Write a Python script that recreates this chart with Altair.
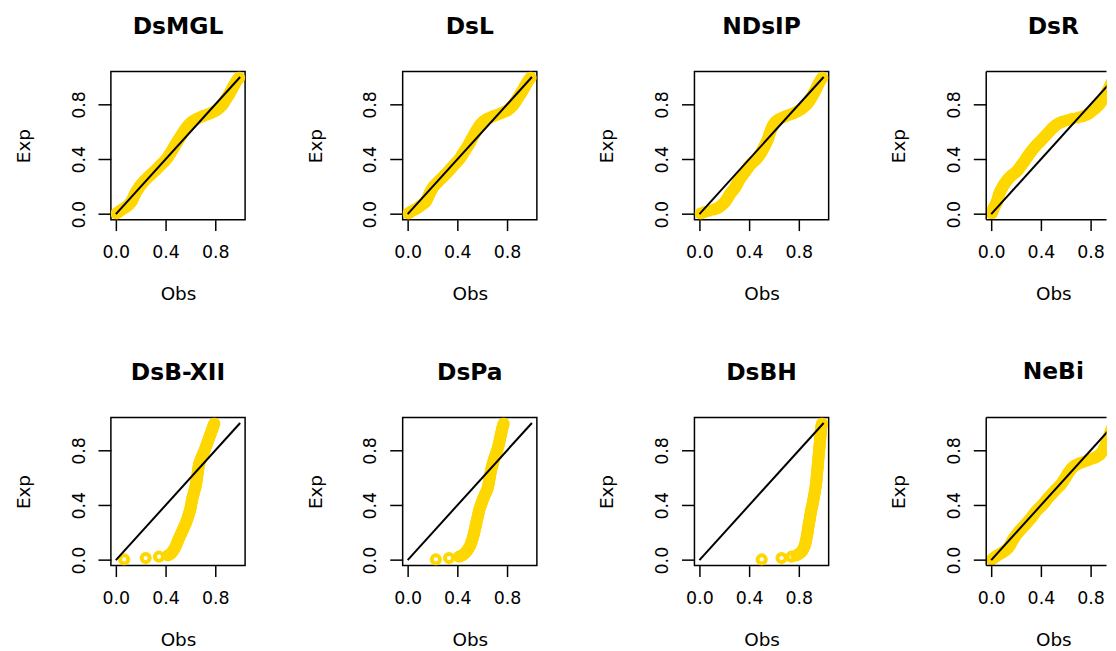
import altair as alt
import pandas as pd

# Empirical plotting positions (shared y values, "Exp")
EXP = [
    0.005, 0.015, 0.025, 0.035, 0.045, 0.055, 0.065, 0.075, 0.085, 0.095,
    0.105, 0.115, 0.125, 0.135, 0.145, 0.155, 0.165, 0.175, 0.185, 0.195,
    0.205, 0.215, 0.225, 0.235, 0.245, 0.255, 0.265, 0.275, 0.285, 0.295,
    0.305, 0.315, 0.325, 0.335, 0.345, 0.355, 0.365, 0.375, 0.385, 0.395,
    0.405, 0.415, 0.425, 0.435, 0.445, 0.455, 0.465, 0.475, 0.485, 0.495,
    0.505, 0.515, 0.525, 0.535, 0.545, 0.555, 0.565, 0.575, 0.585, 0.595,
    0.605, 0.615, 0.625, 0.635, 0.645, 0.655, 0.665, 0.675, 0.685, 0.695,
    0.705, 0.715, 0.725, 0.735, 0.745, 0.755, 0.765, 0.775, 0.785, 0.795,
    0.805, 0.815, 0.825, 0.835, 0.845, 0.855, 0.865, 0.875, 0.885, 0.895,
    0.905, 0.915, 0.925, 0.935, 0.945, 0.955, 0.965, 0.975, 0.985, 0.995,
]

TITLES = ["DsMGL", "DsL", "NDsIP", "DsR", "DsB-XII", "DsPa", "DsBH", "NeBi"]

OBS_DSMGL = [
    0.005, 0.02, 0.035, 0.05, 0.07, 0.085, 0.10, 0.11, 0.12, 0.127,
    0.133, 0.138, 0.143, 0.148, 0.153, 0.158, 0.165, 0.172, 0.179, 0.186,
    0.194, 0.203, 0.212, 0.222, 0.232, 0.243, 0.254, 0.265, 0.277, 0.289,
    0.30, 0.312, 0.324, 0.335, 0.346, 0.357, 0.368, 0.379, 0.39, 0.40,
    0.41, 0.418, 0.425, 0.432, 0.439, 0.446, 0.453, 0.46, 0.466, 0.472,
    0.478, 0.485, 0.492, 0.499, 0.506, 0.513, 0.52, 0.527, 0.534, 0.541,
    0.548, 0.555, 0.563, 0.571, 0.58, 0.59, 0.60, 0.615, 0.63, 0.65,
    0.675, 0.70, 0.73, 0.76, 0.785, 0.805, 0.82, 0.833, 0.845, 0.855,
    0.863, 0.87, 0.877, 0.884, 0.891, 0.898, 0.905, 0.912, 0.918, 0.924,
    0.93, 0.936, 0.942, 0.948, 0.954, 0.96, 0.967, 0.974, 0.982, 0.992,
]
OBS_DSL = [
    0.005, 0.02, 0.04, 0.06, 0.08, 0.095, 0.11, 0.125, 0.14, 0.148,
    0.154, 0.159, 0.164, 0.169, 0.174, 0.179, 0.185, 0.191, 0.197, 0.204,
    0.211, 0.222, 0.233, 0.244, 0.255, 0.266, 0.277, 0.288, 0.299, 0.31,
    0.32, 0.33, 0.34, 0.35, 0.36, 0.37, 0.38, 0.39, 0.40, 0.41,
    0.42, 0.427, 0.434, 0.441, 0.448, 0.455, 0.462, 0.469, 0.476, 0.483,
    0.49, 0.496, 0.502, 0.508, 0.514, 0.52, 0.526, 0.532, 0.538, 0.544,
    0.55, 0.557, 0.564, 0.571, 0.578, 0.586, 0.597, 0.608, 0.622, 0.64,
    0.665, 0.69, 0.72, 0.75, 0.775, 0.80, 0.815, 0.828, 0.84, 0.85,
    0.858, 0.865, 0.872, 0.879, 0.886, 0.893, 0.90, 0.907, 0.914, 0.921,
    0.928, 0.934, 0.94, 0.946, 0.952, 0.958, 0.965, 0.972, 0.98, 0.99,
]
OBS_NDSIP = [
    0.01, 0.04, 0.08, 0.12, 0.15, 0.165, 0.178, 0.19, 0.203, 0.21,
    0.218, 0.225, 0.232, 0.238, 0.245, 0.252, 0.262, 0.272, 0.28, 0.288,
    0.295, 0.30, 0.306, 0.312, 0.318, 0.324, 0.332, 0.34, 0.348, 0.356,
    0.364, 0.372, 0.38, 0.388, 0.396, 0.404, 0.414, 0.426, 0.438, 0.45,
    0.462, 0.47, 0.478, 0.486, 0.494, 0.50, 0.506, 0.512, 0.518, 0.524,
    0.53, 0.535, 0.54, 0.545, 0.55, 0.555, 0.558, 0.561, 0.564, 0.568,
    0.572, 0.576, 0.581, 0.586, 0.591, 0.597, 0.605, 0.615, 0.628, 0.645,
    0.67, 0.695, 0.725, 0.755, 0.78, 0.80, 0.818, 0.832, 0.845, 0.857,
    0.868, 0.876, 0.884, 0.891, 0.898, 0.905, 0.911, 0.917, 0.923, 0.929,
    0.935, 0.94, 0.945, 0.95, 0.955, 0.961, 0.967, 0.974, 0.982, 0.99,
]
OBS_DSR = [
    0.004, 0.008, 0.012, 0.016, 0.02, 0.026, 0.032, 0.038, 0.043, 0.048,
    0.051, 0.054, 0.057, 0.06, 0.063, 0.067, 0.072, 0.078, 0.084, 0.09,
    0.096, 0.103, 0.11, 0.118, 0.126, 0.135, 0.145, 0.155, 0.168, 0.182,
    0.196, 0.208, 0.218, 0.226, 0.234, 0.242, 0.25, 0.259, 0.267, 0.275,
    0.28, 0.288, 0.296, 0.304, 0.312, 0.32, 0.329, 0.338, 0.347, 0.356,
    0.366, 0.377, 0.388, 0.399, 0.41, 0.42, 0.43, 0.44, 0.45, 0.46,
    0.47, 0.48, 0.49, 0.502, 0.515, 0.53, 0.55, 0.575, 0.61, 0.65,
    0.70, 0.74, 0.77, 0.788, 0.80, 0.815, 0.83, 0.842, 0.853, 0.864,
    0.874, 0.883, 0.891, 0.899, 0.906, 0.913, 0.919, 0.925, 0.931, 0.937,
    0.942, 0.947, 0.952, 0.957, 0.962, 0.967, 0.972, 0.978, 0.984, 0.991,
]
OBS_DSBXII = [
    0.067, 0.24, 0.347, 0.42, 0.44, 0.45, 0.458, 0.466, 0.472, 0.478,
    0.483, 0.488, 0.493, 0.497, 0.501, 0.506, 0.511, 0.516, 0.521, 0.526,
    0.531, 0.536, 0.541, 0.546, 0.551, 0.556, 0.561, 0.565, 0.569, 0.573,
    0.577, 0.58, 0.583, 0.587, 0.59, 0.594, 0.597, 0.60, 0.602, 0.604,
    0.606, 0.608, 0.61, 0.612, 0.614, 0.617, 0.62, 0.623, 0.626, 0.629,
    0.632, 0.635, 0.638, 0.641, 0.643, 0.645, 0.647, 0.649, 0.651, 0.653,
    0.654, 0.655, 0.657, 0.658, 0.66, 0.661, 0.663, 0.665, 0.667, 0.669,
    0.672, 0.676, 0.68, 0.684, 0.688, 0.692, 0.697, 0.702, 0.707, 0.712,
    0.716, 0.72, 0.724, 0.728, 0.732, 0.736, 0.74, 0.744, 0.748, 0.752,
    0.756, 0.76, 0.764, 0.768, 0.772, 0.776, 0.78, 0.784, 0.788, 0.792,
]
OBS_DSPA = [
    0.227, 0.333, 0.413, 0.44, 0.455, 0.465, 0.475, 0.483, 0.49, 0.497,
    0.503, 0.507, 0.511, 0.515, 0.519, 0.522, 0.525, 0.528, 0.531, 0.534,
    0.536, 0.539, 0.541, 0.544, 0.546, 0.549, 0.551, 0.554, 0.556, 0.559,
    0.561, 0.564, 0.566, 0.569, 0.571, 0.574, 0.576, 0.579, 0.583, 0.587,
    0.591, 0.595, 0.599, 0.603, 0.607, 0.612, 0.616, 0.621, 0.626, 0.631,
    0.636, 0.641, 0.645, 0.647, 0.649, 0.651, 0.653, 0.655, 0.657, 0.659,
    0.661, 0.663, 0.665, 0.667, 0.669, 0.671, 0.674, 0.677, 0.68, 0.683,
    0.686, 0.689, 0.692, 0.695, 0.699, 0.703, 0.707, 0.711, 0.715, 0.719,
    0.722, 0.725, 0.728, 0.731, 0.734, 0.737, 0.739, 0.741, 0.743, 0.746,
    0.748, 0.75, 0.753, 0.755, 0.758, 0.76, 0.763, 0.766, 0.769, 0.773,
]
OBS_DSBH = [
    0.501, 0.661, 0.741, 0.78, 0.80, 0.815, 0.825, 0.832, 0.838, 0.843,
    0.847, 0.85, 0.853, 0.856, 0.859, 0.861, 0.863, 0.865, 0.867, 0.869,
    0.871, 0.872, 0.874, 0.875, 0.877, 0.879, 0.881, 0.883, 0.885, 0.887,
    0.888, 0.89, 0.892, 0.894, 0.896, 0.898, 0.90, 0.902, 0.905, 0.908,
    0.91, 0.912, 0.914, 0.916, 0.918, 0.92, 0.922, 0.924, 0.926, 0.928,
    0.93, 0.932, 0.934, 0.935, 0.937, 0.938, 0.94, 0.941, 0.942, 0.943,
    0.944, 0.945, 0.946, 0.947, 0.948, 0.949, 0.95, 0.951, 0.952, 0.953,
    0.954, 0.955, 0.956, 0.957, 0.958, 0.959, 0.96, 0.961, 0.962, 0.963,
    0.964, 0.965, 0.966, 0.967, 0.968, 0.969, 0.97, 0.971, 0.972, 0.973,
    0.974, 0.975, 0.976, 0.977, 0.978, 0.979, 0.98, 0.982, 0.984, 0.987,
]
OBS_NEBI = [
    0.005, 0.02, 0.035, 0.05, 0.07, 0.09, 0.105, 0.12, 0.132, 0.141,
    0.149, 0.155, 0.161, 0.167, 0.173, 0.179, 0.187, 0.195, 0.203, 0.211,
    0.22, 0.23, 0.24, 0.25, 0.26, 0.27, 0.28, 0.29, 0.30, 0.31,
    0.32, 0.328, 0.336, 0.344, 0.352, 0.36, 0.371, 0.382, 0.393, 0.404,
    0.415, 0.424, 0.433, 0.442, 0.451, 0.46, 0.47, 0.48, 0.49, 0.50,
    0.51, 0.521, 0.532, 0.543, 0.554, 0.565, 0.572, 0.579, 0.586, 0.593,
    0.60, 0.607, 0.613, 0.62, 0.628, 0.637, 0.645, 0.655, 0.667, 0.685,
    0.71, 0.74, 0.77, 0.80, 0.83, 0.85, 0.87, 0.88, 0.89, 0.90,
    0.905, 0.91, 0.915, 0.92, 0.925, 0.929, 0.933, 0.937, 0.941, 0.945,
    0.949, 0.953, 0.957, 0.961, 0.965, 0.969, 0.973, 0.978, 0.984, 0.99,
]

OBS = [OBS_DSMGL, OBS_DSL, OBS_NDSIP, OBS_DSR,
       OBS_DSBXII, OBS_DSPA, OBS_DSBH, OBS_NEBI]

TICKS = [0.0, 0.2, 0.4, 0.6, 0.8, 1.0]
TICKS_CUT = [0.0, 0.2, 0.4, 0.6, 0.8]       # last column is cut at the page edge
LABELED = [0.0, 0.4, 0.8]
REF = [0.0, 1.0]
DOMAIN = [-0.04, 1.04]
DOMAIN_CUT = [-0.04, 0.928]

GOLD = "#FFD700"
FONT = "DejaVu Sans"
FS = 17.5
FS_TITLE_AX = 18.5
FS_MAIN = 23.5
W, H = 135, 149
W_CUT = 121

label_expr = ("indexof([" + ",".join(str(v) for v in LABELED) +
              "], datum.value) >= 0 ? format(datum.value, '.1f') : ''")


def x_axis(ticks):
    return alt.Axis(
        values=ticks, labelExpr=label_expr, tickSize=11, tickWidth=1.5,
        tickColor="black", domain=False, grid=False,
        labelPadding=27, labelBaseline="alphabetic", labelAlign="center",
        labelFont=FONT, labelFontSize=FS, labelColor="black",
        labelFlush=False, labelOverlap=False,
        title="Obs", titleFont=FONT, titleFontSize=FS_TITLE_AX,
        titleFontWeight="normal",
        titleColor="black", titleX=67.5, titleY=80,
        titleBaseline="alphabetic", titleAlign="center",
    )


y_axis = alt.Axis(
    values=TICKS, labelExpr=label_expr, tickSize=13, tickWidth=1.5,
    tickColor="black", domain=False, grid=False,
    labelAngle=270, labelPadding=14, labelBaseline="alphabetic",
    labelAlign="center",
    labelFont=FONT, labelFontSize=FS, labelColor="black",
    labelFlush=False, labelOverlap=False,
    title="Exp", titleFont=FONT, titleFontSize=FS_TITLE_AX,
    titleFontWeight="normal",
    titleColor="black", titleAngle=270, titleX=-82, titleY=74.5,
    titleBaseline="alphabetic", titleAlign="center",
)


def panel(name, obs, cut=False):
    width = W_CUT if cut else W
    xs = alt.Scale(domain=DOMAIN_CUT if cut else DOMAIN, nice=False, zero=False)
    ys = alt.Scale(domain=DOMAIN, nice=False, zero=False)
    df = pd.DataFrame({"Obs": obs, "Exp": EXP})
    pts = alt.Chart(df).mark_point(
        shape="circle", filled=False, color=GOLD, strokeWidth=4,
        size=68, opacity=1, clip=True,
    ).encode(
        x=alt.X("Obs:Q", scale=xs, axis=x_axis(TICKS_CUT if cut else TICKS)),
        y=alt.Y("Exp:Q", scale=ys, axis=y_axis),
    )
    ref = alt.Chart(pd.DataFrame({"Obs": REF, "Exp": REF})).mark_line(
        color="black", strokeWidth=2, clip=True,
    ).encode(x="Obs:Q", y="Exp:Q")
    layers = [pts, ref]
    title = alt.Title(name, font=FONT, fontSize=FS_MAIN, fontWeight="bold",
                      color="black", anchor="middle", frame="group",
                      offset=14, baseline="alphabetic",
                      dx=(W - W_CUT) / 2 if cut else 0)
    if cut:
        one = pd.DataFrame({"k": [0]})
        frame_style = dict(color="black", strokeWidth=1.5)
        top = alt.Chart(one).mark_rule(**frame_style).encode(
            x=alt.value(0), x2=alt.value(width), y=alt.value(0))
        bottom = alt.Chart(one).mark_rule(**frame_style).encode(
            x=alt.value(0), x2=alt.value(width), y=alt.value(H))
        left = alt.Chart(one).mark_rule(**frame_style).encode(
            x=alt.value(0), y=alt.value(0), y2=alt.value(H))
        layers += [top, bottom, left]
        return alt.layer(*layers).properties(
            width=width, height=H, title=title,
            view=alt.ViewBackground(stroke="transparent"),
        )
    return alt.layer(*layers).properties(width=width, height=H, title=title)


panels = [panel(t, o, cut=(i % 4 == 3))
          for i, (t, o) in enumerate(zip(TITLES, OBS))]

chart = alt.concat(
    *panels, columns=4, spacing={"row": 199, "column": 158.5}, bounds="flush",
).properties(
    padding={"left": 5.5, "top": 4, "right": 0, "bottom": 0},
    background="white",
).configure_view(
    stroke="black", strokeWidth=1.5,
)

chart.save("out.html", embed_options={"renderer": "svg", "actions": False})
